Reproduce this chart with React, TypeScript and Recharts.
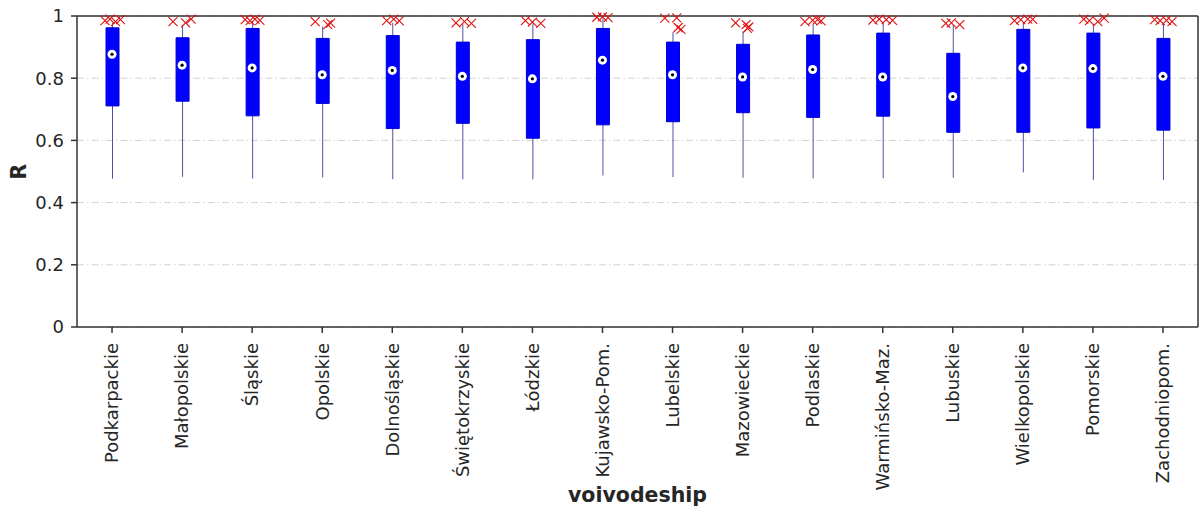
import {
  ComposedChart, Bar, Scatter, XAxis, YAxis, CartesianGrid, ReferenceLine, Label,
} from 'recharts';

const categories = [
  'Podkarpackie', 'Małopolskie', 'Śląskie', 'Opolskie', 'Dolnośląskie', 'Świętokrzyskie',
  'Łódzkie', 'Kujawsko-Pom.', 'Lubelskie', 'Mazowieckie', 'Podlaskie', 'Warmińsko-Maz.',
  'Lubuskie', 'Wielkopolskie', 'Pomorskie', 'Zachodniopom.',
];

const whiskerLow = [0.477, 0.483, 0.477, 0.481, 0.475, 0.475, 0.475, 0.487, 0.482, 0.48, 0.478, 0.478, 0.48, 0.497, 0.473, 0.473];
const q1 = [0.711, 0.726, 0.679, 0.719, 0.638, 0.655, 0.607, 0.65, 0.66, 0.689, 0.674, 0.678, 0.626, 0.626, 0.64, 0.633];
const median = [0.877, 0.842, 0.833, 0.811, 0.825, 0.806, 0.798, 0.858, 0.811, 0.804, 0.828, 0.804, 0.741, 0.833, 0.831, 0.806];
const q3 = [0.962, 0.93, 0.96, 0.928, 0.937, 0.916, 0.924, 0.96, 0.916, 0.909, 0.939, 0.945, 0.88, 0.957, 0.945, 0.928];
const whiskerHigh = [0.978, 0.971, 0.982, 0.966, 0.978, 0.975, 0.976, 0.993, 0.949, 0.952, 0.976, 0.975, 0.971, 0.978, 0.973, 0.976];

// fliers per voivodeship: [horizontal jitter in category units, R]
const outliers: [number, number][][] = [
  [[-0.1, 0.985], [-0.03, 0.99], [0.05, 0.982], [0.12, 0.988]],
  [[-0.13, 0.982], [0.05, 0.978], [0.13, 0.99]],
  [[-0.1, 0.988], [-0.03, 0.985], [0.04, 0.99], [0.11, 0.986]],
  [[-0.1, 0.982], [0.08, 0.972], [0.12, 0.977]],
  [[-0.08, 0.985], [0.02, 0.99], [0.1, 0.984]],
  [[-0.09, 0.978], [0.03, 0.982], [0.13, 0.976]],
  [[-0.1, 0.985], [0.0, 0.98], [0.12, 0.976]],
  [[-0.08, 0.996], [0.0, 0.997], [0.08, 0.995]],
  [[-0.11, 0.993], [0.06, 0.994], [0.08, 0.963], [0.12, 0.957]],
  [[-0.1, 0.978], [0.05, 0.972], [0.09, 0.965], [0.07, 0.96]],
  [[-0.11, 0.982], [0.0, 0.986], [0.07, 0.988], [0.12, 0.984]],
  [[-0.14, 0.987], [-0.05, 0.99], [0.05, 0.988], [0.14, 0.986]],
  [[-0.1, 0.976], [-0.02, 0.978], [0.1, 0.972]],
  [[-0.12, 0.985], [-0.03, 0.988], [0.07, 0.99], [0.14, 0.989]],
  [[-0.13, 0.99], [-0.05, 0.985], [0.07, 0.982], [0.16, 0.993]],
  [[-0.12, 0.988], [-0.04, 0.985], [0.05, 0.986], [0.13, 0.982]],
];

const yTicks = [0, 0.2, 0.4, 0.6, 0.8, 1];

const boxData = categories.map((name, i) => ({
  name,
  whisker: [whiskerLow[i], whiskerHigh[i]],
  box: [q1[i], q3[i]],
}));
const medianData = categories.map((_, i) => ({ pos: i, value: median[i] }));
const flierData = outliers.flatMap((list, i) => list.map(([dx, v]) => ({ pos: i + dx, value: v })));

const FONT = 'DejaVu Sans';
const TEXT = '#262626';
const AXIS = '#333';

const WhiskerShape = (p: any) => {
  const cx = p.x + p.width / 2;
  const top = Math.min(p.y, p.y + p.height);
  return <line x1={cx} x2={cx} y1={top} y2={top + Math.abs(p.height)} stroke="#5050a8" strokeWidth={1} />;
};

const MedianDot = (p: any) => (
  <g>
    <circle cx={p.cx} cy={p.cy} r={4.5} fill="#fff" />
    <circle cx={p.cx} cy={p.cy} r={1.6} fill="#000" />
  </g>
);

const Flier = (p: any) => {
  const s = 4.5;
  return (
    <g stroke="#e01010" strokeWidth={1.1}>
      <line x1={p.cx - s} y1={p.cy - s} x2={p.cx + s} y2={p.cy + s} />
      <line x1={p.cx - s} y1={p.cy + s} x2={p.cx + s} y2={p.cy - s} />
    </g>
  );
};

const CatTick = ({ x, y, payload }: any) => {
  const ty = y + 8;
  return (
    <text x={x} y={ty} transform={`rotate(-90, ${x}, ${ty})`} textAnchor="end" dy="0.35em"
      fontSize={18} fontFamily={FONT} fill={TEXT}>
      {payload.value}
    </text>
  );
};

export default function App() {
  return (
    <div style={{ position: 'absolute', left: 0, top: 0, background: '#fff' }}>
      <ComposedChart width={1201} height={515} data={boxData}
        margin={{ top: 16, right: 3, left: 17, bottom: 13 }} barSize={13} barGap={-13}>
        <CartesianGrid xAxisId="cat" vertical={false} stroke="#d2d2d2" strokeDasharray="7 3 1.5 3" />
        <XAxis xAxisId="cat" dataKey="name" interval={0} height={175} tick={<CatTick />}
          tickSize={6} tickLine={{ stroke: AXIS, strokeWidth: 1.5 }} axisLine={{ stroke: AXIS, strokeWidth: 1.5 }}>
          <Label content={({ viewBox }: any) => (
            <text x={viewBox.x + viewBox.width / 2} y={viewBox.y + viewBox.height} textAnchor="middle"
              fontSize={20.5} fontWeight="bold" fontFamily={FONT} fill={TEXT}>voivodeship</text>
          )} />
        </XAxis>
        <XAxis xAxisId="num" type="number" dataKey="pos" domain={[-0.5, 15.5]} allowDataOverflow hide />
        <YAxis domain={[0, 1]} ticks={yTicks} width={60} tickSize={6} tickMargin={7}
          tick={{ fontSize: 18, fontFamily: FONT, fill: TEXT }}
          tickLine={{ stroke: AXIS, strokeWidth: 1.5 }} axisLine={{ stroke: AXIS, strokeWidth: 1.5 }}>
          <Label content={({ viewBox }: any) => {
            const lx = viewBox.x + 2;
            const ly = viewBox.y + viewBox.height / 2;
            return (
              <text x={lx} y={ly} transform={`rotate(-90, ${lx}, ${ly})`} textAnchor="middle" dy="0.35em"
                fontSize={20.5} fontWeight="bold" fontFamily={FONT} fill={TEXT}>R</text>
            );
          }} />
        </YAxis>
        <ReferenceLine xAxisId="cat" y={1} stroke={AXIS} strokeWidth={1.5} />
        <ReferenceLine xAxisId="num" x={15.5} stroke={AXIS} strokeWidth={1.5} />
        <Bar xAxisId="cat" dataKey="whisker" shape={WhiskerShape} isAnimationActive={false} />
        <Bar xAxisId="cat" dataKey="box" fill="#0000ff" stroke="#0000d0" strokeWidth={1} isAnimationActive={false} />
        <Scatter xAxisId="num" data={flierData} dataKey="value" shape={Flier} isAnimationActive={false} />
        <Scatter xAxisId="num" data={medianData} dataKey="value" shape={MedianDot} isAnimationActive={false} />
      </ComposedChart>
    </div>
  );
}
